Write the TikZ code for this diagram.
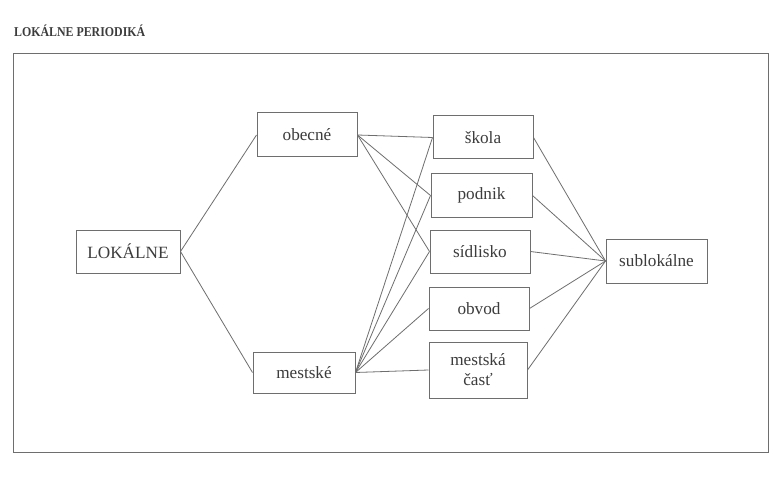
\documentclass[tikz,border=0pt]{standalone}
\usepackage{fontspec}
\setmainfont{Liberation Serif}
\definecolor{ink}{RGB}{60,60,60}
\definecolor{linec}{RGB}{110,110,110}
\begin{document}
\begin{tikzpicture}[x=1pt,y=-1pt,
  box/.style={draw=linec,line width=1pt,inner sep=0pt,text=ink,font=\fontsize{17.2}{20}\selectfont,align=center},
  conn/.style={draw=linec,line width=0.8pt}]
\useasboundingbox (0,0) rectangle (776,481);
\fill[white] (0,0) rectangle (776,481);
\node[anchor=west,text=ink,font=\bfseries\fontsize{13.5}{15}\selectfont,inner sep=0pt,xscale=0.88,transform shape] (title) at (14,31) {LOKÁLNE PERIODIKÁ};
\node[draw=linec,line width=1pt,minimum width=755pt,minimum height=399pt,inner sep=0pt] (frame) at (390.5,253) {};
\node[box,minimum width=104pt,minimum height=43pt] (lok) at (128,251.5) {LOKÁLNE};
\node[box,minimum width=100pt,minimum height=44pt] (obe) at (307,135) {obecné};
\node[box,minimum width=102pt,minimum height=41pt] (mes) at (304,372.5) {mestské};
\node[box,minimum width=100pt,minimum height=43pt] (sko) at (483,137.5) {škola};
\node[box,minimum width=101pt,minimum height=43pt] (pod) at (481.5,195.5) {podnik};
\node[box,minimum width=100pt,minimum height=43pt] (sid) at (480,251.5) {sídlisko};
\node[box,minimum width=100pt,minimum height=43pt] (obv) at (479,308.5) {obvod};
\node[box,minimum width=98pt,minimum height=56pt] (cas) at (478,370) {mestská\\časť};
\node[box,minimum width=101pt,minimum height=44pt] (sub) at (656.5,261) {sublokálne};
\draw[conn] (lok.east) -- (obe.west);
\draw[conn] (lok.east) -- (mes.west);
\foreach \t in {sko,pod,sid} \draw[conn] (obe.east) -- (\t.west);
\foreach \t in {sko,pod,sid,obv,cas} \draw[conn] (mes.east) -- (\t.west);
\foreach \t in {sko,pod,sid,obv,cas} \draw[conn] (\t.east) -- (sub.west);
\end{tikzpicture}
\end{document}
